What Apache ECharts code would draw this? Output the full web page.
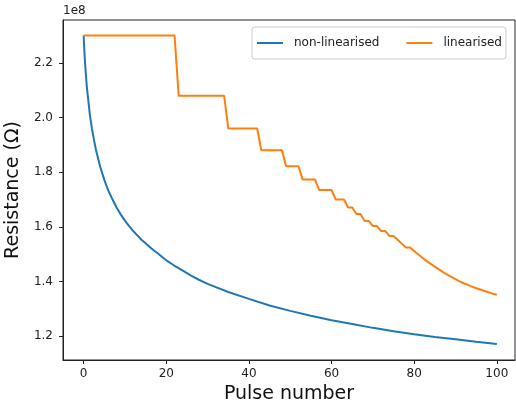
<!DOCTYPE html>
<html>
<head>
<meta charset="utf-8">
<script src="https://cdn.jsdelivr.net/npm/echarts@6/dist/echarts.min.js"></script>
<style>
html,body{margin:0;padding:0;background:#fff;}
#c{width:516px;height:403px;}
</style>
</head>
<body>
<div id="c"></div>
<script>
// Values in units of 1e8 Ohm
const pulseNL = [0,0.1,0.2,0.3,0.5,0.75,1,1.5,2,2.5,3,4,5,6,7,8,9,10,11,12,13,14,15,16,17,18,19,20,22,24,26,28,30,32,35,40,45,50,55,60,65,70,75,80,85,90,95,100];
const resNL = [2.300,2.265,2.235,2.210,2.165,2.115,2.080,2.010,1.960,1.918,1.880,1.820,1.772,1.732,1.700,1.670,1.645,1.623,1.603,1.585,1.569,1.553,1.540,1.527,1.514,1.503,1.490,1.478,1.458,1.440,1.422,1.406,1.392,1.380,1.362,1.337,1.313,1.293,1.275,1.259,1.245,1.231,1.219,1.208,1.198,1.189,1.180,1.172];

const pulseL = [0,22,23,34,35,42,43,48,49,52,53,56,57,60,61,63,64,65,66,67,68,69,70,71,72,73,74,75,76,77,78,79,80,81,82,83,84,85,86,87,88,89,90,91,92,93,94,95,96,97,98,99,100];
const resL = [2.300,2.300,2.080,2.080,1.960,1.960,1.880,1.880,1.822,1.822,1.773,1.773,1.735,1.735,1.700,1.700,1.671,1.671,1.647,1.647,1.622,1.622,1.603,1.603,1.585,1.585,1.567,1.567,1.553,1.539,1.525,1.525,1.512,1.499,1.487,1.475,1.465,1.455,1.445,1.435,1.426,1.417,1.409,1.401,1.394,1.388,1.382,1.376,1.371,1.366,1.361,1.356,1.352];

const xTicks = [0,20,40,60,80,100];
const yTicks = [1.2,1.4,1.6,1.8,2.0,2.2];
const seriesNames = ['non-linearised','linearised'];
const offsetText = '1e8';

const FONT = 'DejaVu Sans';
const chart = echarts.init(document.getElementById('c'), null, {renderer:'canvas'});
chart.setOption({
  animation: false,
  backgroundColor: '#fff',
  title: {
    text: offsetText, left: 63, top: 5, padding: 0,
    textStyle: {fontFamily: FONT, fontSize: 12, fontWeight: 'normal', color: '#222'}
  },
  legend: {
    data: seriesNames,
    left: 252, top: 27,
    orient: 'horizontal',
    icon: 'rect', itemWidth: 26, itemHeight: 2, itemGap: 27,
    padding: [10, 4, 10, 5],
    borderColor: '#cccccc', borderWidth: 1, borderRadius: 3,
    backgroundColor: 'rgba(255,255,255,0.8)',
    textStyle: {fontFamily: FONT, fontSize: 12, color: '#222', padding: [0,0,0,6]}
  },
  grid: {
    left: 63, top: 20, width: 452, height: 340,
    outerBoundsMode: 'none',
    show: true, borderColor: '#222', borderWidth: 1, containLabel: false
  },
  xAxis: {
    type: 'value', min: -5, max: 104.4,
    name: 'Pulse number', nameLocation: 'middle', nameGap: 24,
    nameTextStyle: {fontFamily: FONT, fontSize: 19, color: '#111'},
    axisLine: {show: true, onZero: false, lineStyle: {color: '#222', width: 1}},
    axisTick: {show: true, length: 4, lineStyle: {color: '#222'}, customValues: xTicks},
    axisLabel: {fontFamily: FONT, fontSize: 12, color: '#222', margin: 8, customValues: xTicks},
    splitLine: {show: false}
  },
  yAxis: {
    type: 'value', min: 1.1135, max: 2.3565,
    name: 'Resistance (Ω)', nameLocation: 'middle', nameGap: 37, nameRotate: 90,
    nameTextStyle: {fontFamily: FONT, fontSize: 19, color: '#111'},
    axisLine: {show: true, onZero: false, lineStyle: {color: '#222', width: 1}},
    axisTick: {show: true, length: 4, lineStyle: {color: '#222'}, customValues: yTicks},
    axisLabel: {fontFamily: FONT, fontSize: 12, color: '#222', margin: 10,
      customValues: yTicks, formatter: v => v.toFixed(1)},
    splitLine: {show: false}
  },
  series: [
    {
      name: seriesNames[0], type: 'line', symbol: 'none',
      data: pulseNL.map((p, i) => [p, resNL[i]]),
      lineStyle: {color: '#1f77b4', width: 2}, itemStyle: {color: '#1f77b4'}
    },
    {
      name: seriesNames[1], type: 'line', symbol: 'none',
      data: pulseL.map((p, i) => [p, resL[i]]),
      lineStyle: {color: '#ff7f0e', width: 2}, itemStyle: {color: '#ff7f0e'}
    }
  ]
});
</script>
</body>
</html>
